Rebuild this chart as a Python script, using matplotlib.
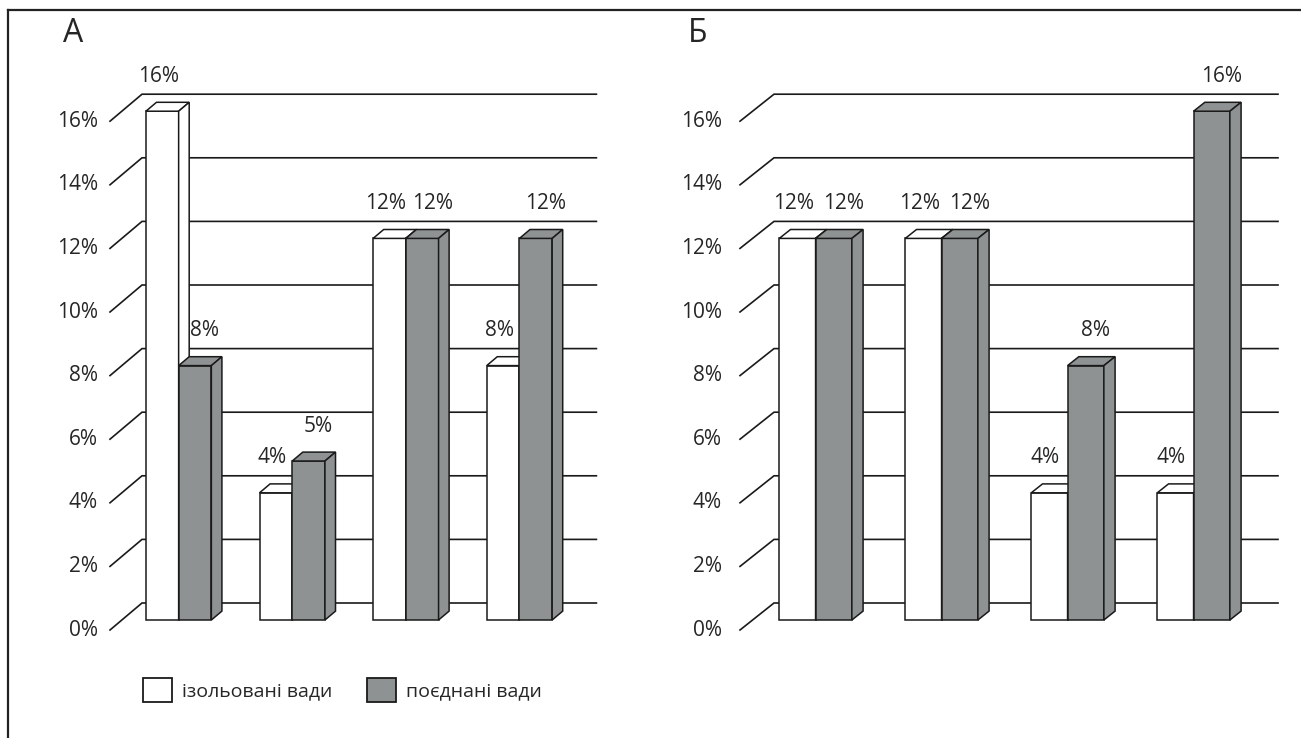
import matplotlib.pyplot as plt
from matplotlib.patches import Patch
from matplotlib.lines import Line2D

plt.rcParams['font.family'] = ['Open Sans', 'DejaVu Sans']

# data (percent)
yticks = [0, 2, 4, 6, 8, 10, 12, 14, 16]
isolated_a = [16, 4, 12, 8]
combined_a = [8, 5, 12, 12]
isolated_b = [12, 12, 4, 4]
combined_b = [12, 12, 8, 16]
series_labels = ['ізольовані вади', 'поєднані вади']
panel_letters = ['А', 'Б']

W, H = 1301, 738
GREY = '#8e9292'
EDGE = '#1a1a1a'
TEXT = '#262626'
FS = 15

fig = plt.figure(figsize=(W / 100, H / 100), dpi=100)


def bar3d(ax, xl, yb, w, h, bdx, bdy, color):
    # front face, top face, side face
    ax.bar(xl, h, width=w, bottom=yb, align='edge', color=color,
           edgecolor=EDGE, lw=1.1, zorder=2)
    yt = yb + h
    ax.fill([xl, xl + bdx, xl + w + bdx, xl + w], [yt, yt + bdy, yt + bdy, yt],
            facecolor=color, edgecolor=EDGE, lw=1.1, zorder=2)
    ax.fill([xl + w, xl + w + bdx, xl + w + bdx, xl + w], [yb, yb + bdy, yt + bdy, yt],
            facecolor=color, edgecolor=EDGE, lw=1.1, zorder=2)


def panel(x0, cat, depth_x, gap, isolated, combined):
    y0, pct, depth_y = 630, 31.8, 27
    ax = fig.add_axes([0, 0, 1, 1])
    ax.set_xlim(-x0 / cat, (W - x0) / cat)
    ax.set_ylim((y0 - H) / pct, y0 / pct)
    ax.axis('off')
    ax.patch.set_alpha(0)
    dx = depth_x / cat
    dy = depth_y / pct
    n = len(isolated)

    # back wall lines with the slanted ticks
    for t in yticks:
        ax.plot([0, dx, n + dx], [t, t + dy, t + dy], color=EDGE, lw=1.2,
                zorder=1, solid_joinstyle='miter')
        ax.text(-gap / cat, t, f'{t}%', ha='right', va='center',
                fontsize=FS, color=TEXT)

    f0, fd = 0.37, 0.33
    bw = 0.288
    bdx, bdy = fd * dx, fd * dy
    for i in range(n):
        c = i + 0.5 + f0 * dx
        yb = f0 * dy
        bar3d(ax, c - bw, yb, bw, isolated[i], bdx, bdy, 'white')
        bar3d(ax, c, yb, bw, combined[i], bdx, bdy, GREY)
        ax.text(c - bw / 2 - 4 / cat, yb + isolated[i] + 35 / pct, f'{isolated[i]}%',
                ha='center', va='center', fontsize=FS, color=TEXT, zorder=3)
        ax.text(c + bw / 2 + 10 / cat, yb + combined[i] + 35 / pct, f'{combined[i]}%',
                ha='center', va='center', fontsize=FS, color=TEXT, zorder=3)
    return ax


panel(110, 113.6, 32, 12, isolated_a, combined_a)
panel(740, 126, 34, 18, isolated_b, combined_b)

fig.text(73 / W, 1 - 33 / H, panel_letters[0], ha='center', va='center',
         fontsize=23, color=TEXT)
fig.text(698 / W, 1 - 33 / H, panel_letters[1], ha='center', va='center',
         fontsize=23, color=TEXT)

handles = [Patch(facecolor='white', edgecolor=EDGE, lw=1.3),
           Patch(facecolor=GREY, edgecolor=EDGE, lw=1.3)]
fig.legend(handles, series_labels, loc='center left',
           bbox_to_anchor=(143 / W, 1 - 690 / H), ncol=2, frameon=False,
           fontsize=14, labelcolor=TEXT, handlelength=1.5, handleheight=1.45,
           handletextpad=0.5, columnspacing=1.8, borderpad=0, borderaxespad=0)

# outer frame (top and left only)
fig.add_artist(Line2D([8 / W, 1], [1 - 10 / H, 1 - 10 / H],
                      transform=fig.transFigure, color='#222222', lw=1.6))
fig.add_artist(Line2D([8 / W, 8 / W], [0, 1 - 10 / H],
                      transform=fig.transFigure, color='#222222', lw=1.6))

fig.savefig('out.png', dpi=100)
